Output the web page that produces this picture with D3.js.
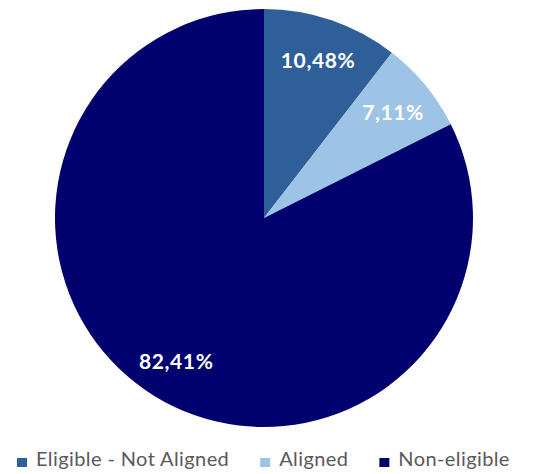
<!DOCTYPE html>
<html>
<head>
  <meta charset="utf-8">
  <title>Eligibility pie</title>
  <script src="https://cdn.jsdelivr.net/npm/d3@7"></script>
  <style>
    html, body { margin: 0; padding: 0; background: #fff; }
  </style>
</head>
<body>
  <div id="chart"></div>
  <script>
    // Data
    const categories = ["Eligible - Not Aligned", "Aligned", "Non-eligible"];
    const shares = [10.48, 7.11, 82.41];
    const colors = ["#2f5f98", "#9dc3e6", "#00006e"];

    const width = 534;
    const height = 474;
    const cx = 264, cy = 218, radius = 209;

    const svg = d3.select("#chart").append("svg")
        .attr("width", width)
        .attr("height", height);

    const pie = d3.pie().sort(null).value(d => d.value);
    const arcs = pie(categories.map((c, i) => ({ name: c, value: shares[i], color: colors[i] })));

    const arc = d3.arc().innerRadius(0).outerRadius(radius);
    const labelArc = d3.arc().innerRadius(radius * 0.8).outerRadius(radius * 0.8);

    const g = svg.append("g").attr("transform", `translate(${cx},${cy})`);

    g.selectAll("path")
      .data(arcs)
      .enter().append("path")
        .attr("d", arc)
        .attr("fill", d => d.data.color);

    // percentage labels
    g.selectAll("text")
      .data(arcs)
      .enter().append("text")
        .attr("transform", d => `translate(${labelArc.centroid(d)})`)
        .attr("text-anchor", "middle")
        .attr("dy", "0.4em")
        .style("font-family", "Lato, 'Open Sans', sans-serif")
        .style("font-weight", "bold")
        .style("font-size", "21px")
        .style("letter-spacing", "0.6px")
        .attr("fill", "#fff")
        .text(d => d.data.value.toFixed(2).replace(".", ",") + "%");

    // Legend
    const legend = svg.append("g").attr("transform", "translate(17,466)");
    let lx = 0;
    categories.forEach((c, i) => {
      const item = legend.append("g").attr("transform", `translate(${lx},0)`);
      item.append("rect")
        .attr("x", 0).attr("y", -8)
        .attr("width", 10).attr("height", 9)
        .attr("fill", colors[i]);
      const t = item.append("text")
        .attr("x", 19)
        .style("font-family", "Lato, 'Open Sans', sans-serif")
        .style("font-size", "20px")
        .style("letter-spacing", "0.4px")
        .attr("fill", "#595959")
        .text(c);
      lx += 19 + t.node().getComputedTextLength() + 31;
    });
  </script>
</body>
</html>
